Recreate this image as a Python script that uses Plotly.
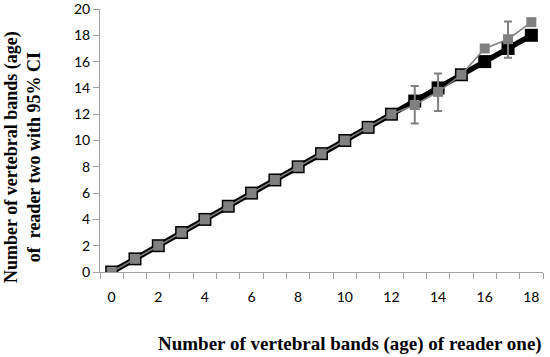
import plotly.graph_objects as go

ages_reader_one = list(range(0, 19))
line_one_to_one = list(range(0, 19))
reader_two_mean = [0, 1, 2, 3, 4, 5, 6, 7, 8, 9, 10, 11, 12, 12.7, 13.7, 15, 17, 17.7, 19]
ci_upper = [None]*13 + [14.15, 15.1, None, None, 19.05, None]
ci_lower = [None]*13 + [11.3, 12.25, None, None, 16.3, None]
x_tick_vals = [0, 2, 4, 6, 8, 10, 12, 14, 16, 18]
x_tick_text = [str(v) for v in x_tick_vals]
y_tick_vals = list(range(0, 21, 2))

err_plus = [None if u is None else u - m for u, m in zip(ci_upper, reader_two_mean)]
err_minus = [None if l is None else m - l for l, m in zip(ci_lower, reader_two_mean)]

L, R, T, B = 100, 7, 8.5, 84.5
W, H = 550, 357
plot_w = W - L - R
plot_h = H - T - B

fig = go.Figure()
fig.add_trace(go.Scatter(
    x=ages_reader_one, y=line_one_to_one, mode="lines+markers",
    line=dict(color="black", width=5.5),
    marker=dict(symbol="square", size=13, color="black"),
    showlegend=False, hoverinfo="skip"))
fig.add_trace(go.Scatter(
    x=ages_reader_one, y=reader_two_mean, mode="lines+markers",
    line=dict(color="#808080", width=1.5),
    marker=dict(symbol="square", size=10, color="#808080"),
    error_y=dict(type="data", symmetric=False, array=err_plus, arrayminus=err_minus,
                 color="#808080", thickness=2, width=4),
    showlegend=False))

tick_font = dict(family="Lato, 'Open Sans', sans-serif", size=14, color="black")
xtitle_font = dict(family="'Liberation Serif', serif", size=19, color="black")
ytitle_font = dict(family="'Liberation Serif', serif", size=18, color="black")

fig.update_layout(
    width=W, height=H,
    margin=dict(l=L, r=R, t=T, b=B),
    paper_bgcolor="white", plot_bgcolor="white",
    xaxis=dict(range=[-0.5, 18.5], tickvals=x_tick_vals, ticktext=x_tick_text,
               ticks="outside", ticklen=12, tickcolor="rgba(0,0,0,0)",
               minor=dict(tick0=-0.5, dtick=1, ticks="outside", ticklen=6, tickcolor="#a0a0a0"),
               showline=True, linecolor="#a0a0a0", linewidth=1, showgrid=False, zeroline=False,
               tickfont=tick_font, automargin=False, ticklabeloverflow="allow"),
    yaxis=dict(range=[0, 20], tickvals=y_tick_vals, ticks="outside", ticklen=6,
               tickcolor="#a0a0a0",
               showline=True, linecolor="#a0a0a0", linewidth=1, showgrid=False, zeroline=False,
               tickfont=tick_font, automargin=False, ticklabeloverflow="allow"),
)
fig.add_annotation(text="<b>Number of vertebral bands (age) of reader one)</b>",
                   x=(350 - L) / plot_w, y=(H - B - 345) / plot_h,
                   xanchor="center", yanchor="middle",
                   xref="paper", yref="paper", showarrow=False, font=xtitle_font)
fig.add_annotation(text="<b>Number of vertebral bands (age)<br>of  reader two with 95% CI</b>",
                   x=(23 - L) / plot_w, y=(H - B - 157) / plot_h,
                   xanchor="center", yanchor="middle",
                   xref="paper", yref="paper", showarrow=False, textangle=-90,
                   font=ytitle_font)
fig.write_html("out.html", config={"displayModeBar": False},
               post_script="document.body.style.margin='0';")
